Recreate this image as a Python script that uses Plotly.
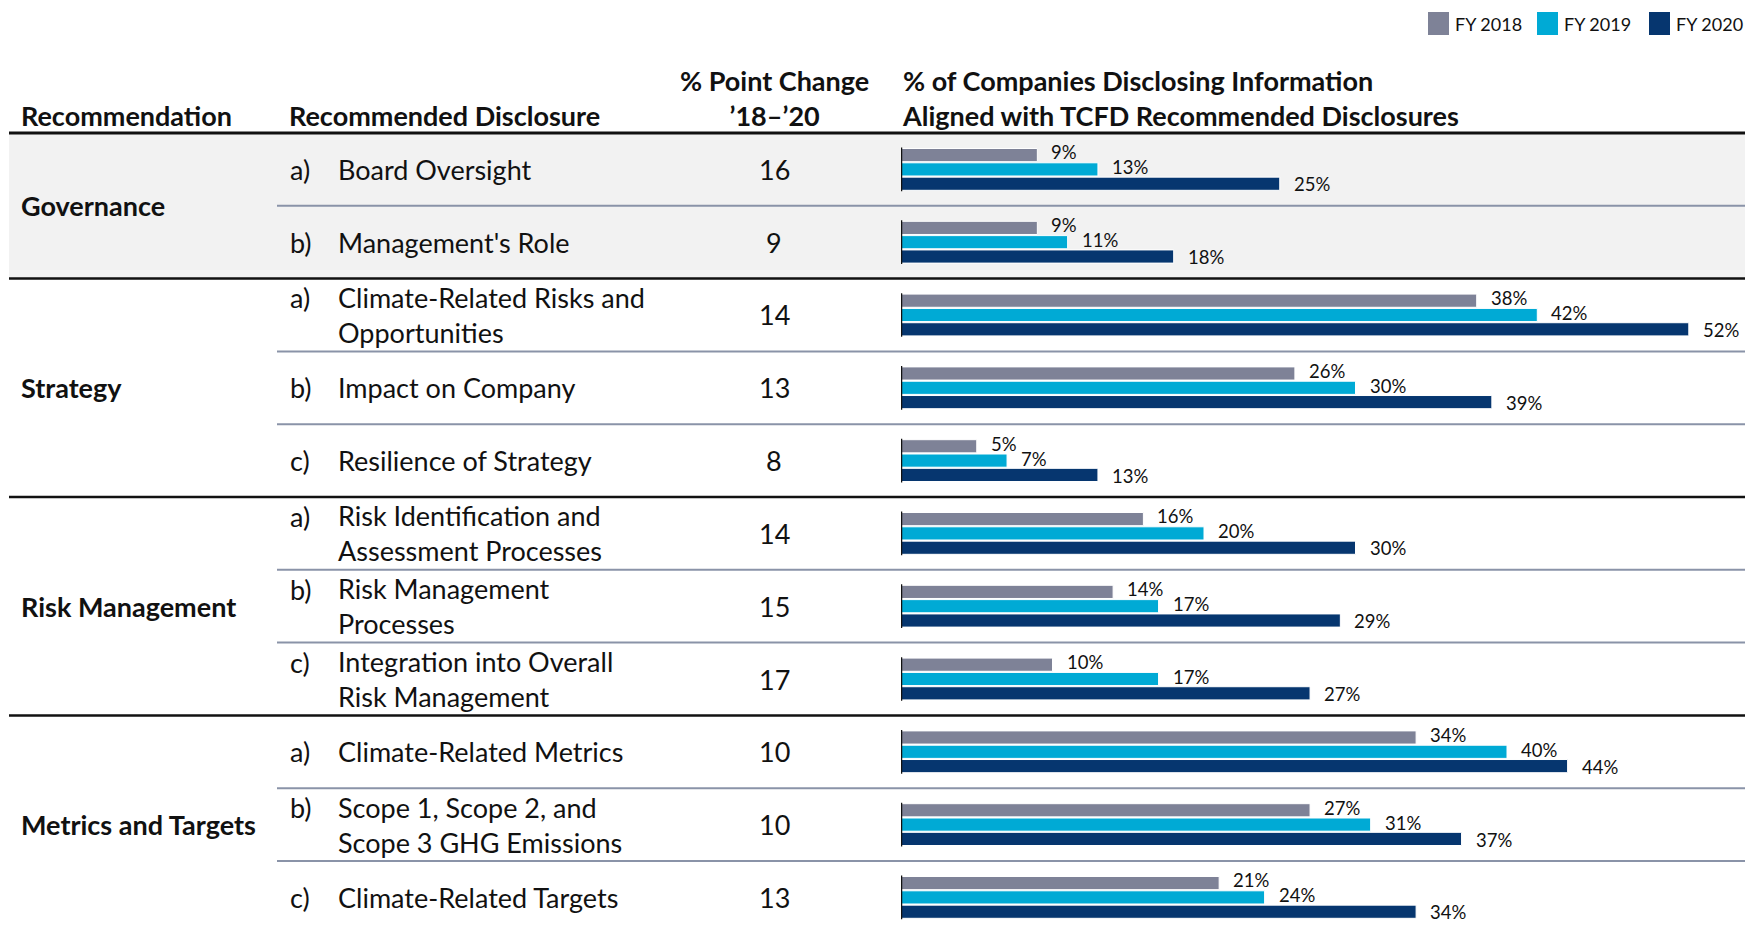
import plotly.graph_objects as go

# ---------------- data ----------------
groups = ["Governance", "Strategy", "Risk Management", "Metrics and Targets"]
group_sizes = [2, 3, 3, 3]
letters = ["a)", "b)", "a)", "b)", "c)", "a)", "b)", "c)", "a)", "b)", "c)"]
disclosures = [
    "Board Oversight",
    "Management's Role",
    "Climate-Related Risks and<br>Opportunities",
    "Impact on Company",
    "Resilience of Strategy",
    "Risk Identification and<br>Assessment Processes",
    "Risk Management<br>Processes",
    "Integration into Overall<br>Risk Management",
    "Climate-Related Metrics",
    "Scope 1, Scope 2, and<br>Scope 3 GHG Emissions",
    "Climate-Related Targets",
]
point_change = [16, 9, 14, 13, 8, 14, 15, 17, 10, 10, 13]
series_names = ["FY 2018", "FY 2019", "FY 2020"]
fy2018 = [9, 9, 38, 26, 5, 16, 14, 10, 34, 27, 21]
fy2019 = [13, 11, 42, 30, 7, 20, 17, 17, 40, 31, 24]
fy2020 = [25, 18, 52, 39, 13, 30, 29, 27, 44, 37, 34]
series_values = [fy2018, fy2019, fy2020]

header_rec = "Recommendation"
header_disc = "Recommended Disclosure"
header_change = "% Point Change<br>’18–’20"
header_pct = "% of Companies Disclosing Information<br>Aligned with TCFD Recommended Disclosures"

# ---------------- styling ----------------
PAGE_W, PAGE_H = 1753, 930
OFF = 8                      # default body margin of the page (both sides)
W, H = PAGE_W - 2 * OFF, PAGE_H - 2 * OFF
FIG_RIGHT = OFF + W
FIG_BOTTOM = OFF + H
FONT = "Lato"
colors = ["#7e8297", "#00aad5", "#06366f"]
TXT = "#111111"
TOP = 133          # page px of header rule
PITCH = 72.8       # px per row
X0 = 901           # page px of bar baseline
PX_PER_PCT = 15.15
BODY = 27
LBL = 18.5


def px(x):
    return (x - OFF) / W


def py(y):
    return 1 - (y - OFF) / H


n = len(disclosures)
y_bottom_val = -0.5 + (FIG_BOTTOM - TOP) / PITCH

fig = go.Figure()

for name, vals, col in zip(series_names, series_values, colors):
    fig.add_trace(go.Bar(
        x=vals, y=disclosures, orientation="h", name=name,
        marker=dict(color=col, line=dict(color="white", width=1)),
        showlegend=False, hovertemplate="%{x}%<extra>" + name + "</extra>",
    ))

annotations = []
shapes = []

# governance background
shapes.append(dict(type="rect", xref="paper", yref="y", x0=px(9), x1=1,
                   y0=-0.5, y1=group_sizes[0] - 0.5, fillcolor="#f2f2f2",
                   line=dict(width=0), layer="below"))

# value labels
yshifts = [17, 2, -15]
for si, vals in enumerate(series_values):
    for i, v in enumerate(vals):
        annotations.append(dict(
            x=v, y=i, xref="x", yref="y", text=f"{v}%", showarrow=False,
            xanchor="left", yanchor="middle", xshift=12, yshift=yshifts[si],
            font=dict(family=FONT, size=LBL, color=TXT)))

# baseline stub per row
for i in range(n):
    shapes.append(dict(type="line", xref="x", yref="y", x0=0, x1=0,
                       y0=i - 0.30, y1=i + 0.30,
                       line=dict(color="#111111", width=2.5)))

# row text
for i in range(n):
    two_line = "<br>" in disclosures[i]
    annotations.append(dict(x=px(288), y=i, xref="paper", yref="y", text=letters[i],
                            showarrow=False, xanchor="left", yanchor="middle",
                            yshift=17 if two_line else 0,
                            font=dict(family=FONT, size=BODY, color=TXT)))
    annotations.append(dict(x=px(336), y=i, xref="paper", yref="y", text=disclosures[i],
                            showarrow=False, xanchor="left", yanchor="middle", align="left",
                            font=dict(family=FONT, size=BODY, color=TXT)))
    annotations.append(dict(x=px(774), y=i, xref="paper", yref="y", text=str(point_change[i]),
                            showarrow=False, xanchor="center", yanchor="middle",
                            font=dict(family=FONT, size=BODY, color=TXT)))

# group labels and separators
start = 0
for gi, (g, sz) in enumerate(zip(groups, group_sizes)):
    center = start + (sz - 1) / 2
    annotations.append(dict(x=px(19), y=center, xref="paper", yref="y", text=f"<b>{g}</b>",
                            showarrow=False, xanchor="left", yanchor="middle",
                            font=dict(family=FONT, size=BODY, color=TXT)))
    for k in range(1, sz):
        shapes.append(dict(type="line", xref="paper", yref="y", x0=px(277), x1=1,
                           y0=start + k - 0.5, y1=start + k - 0.5,
                           line=dict(color="#8a93a8", width=2)))
    if gi < len(groups) - 1:
        shapes.append(dict(type="line", xref="paper", yref="y", x0=px(9), x1=1,
                           y0=start + sz - 0.5, y1=start + sz - 0.5,
                           line=dict(color="#111111", width=2.5)))
    start += sz

# header rule
shapes.append(dict(type="line", xref="paper", yref="paper", x0=px(9), x1=1,
                   y0=py(TOP), y1=py(TOP), line=dict(color="#111111", width=3)))

# headers
annotations += [
    dict(x=px(19), y=py(115), xref="paper", yref="paper", text=f"<b>{header_rec}</b>",
         showarrow=False, xanchor="left", yanchor="middle",
         font=dict(family=FONT, size=BODY, color=TXT)),
    dict(x=px(287), y=py(115), xref="paper", yref="paper", text=f"<b>{header_disc}</b>",
         showarrow=False, xanchor="left", yanchor="middle",
         font=dict(family=FONT, size=BODY, color=TXT)),
    dict(x=px(774), y=py(98), xref="paper", yref="paper", text=f"<b>{header_change}</b>",
         showarrow=False, xanchor="center", yanchor="middle",
         font=dict(family=FONT, size=BODY, color=TXT)),
    dict(x=px(900), y=py(98), xref="paper", yref="paper", text=f"<b>{header_pct}</b>",
         showarrow=False, xanchor="left", yanchor="middle", align="left",
         font=dict(family=FONT, size=BODY, color=TXT)),
]

# legend
leg_sq_x = [1428, 1537, 1649]
for name, col, lx in zip(series_names, colors, leg_sq_x):
    shapes.append(dict(type="rect", xref="paper", yref="paper",
                       x0=px(lx), x1=px(lx + 21), y0=py(12), y1=py(35),
                       fillcolor=col, line=dict(width=0)))
    annotations.append(dict(x=px(lx + 25), y=py(24), xref="paper", yref="paper", text=name,
                            showarrow=False, xanchor="left", yanchor="middle",
                            font=dict(family=FONT, size=18, color=TXT)))

fig.update_layout(
    width=W, height=H,
    margin=dict(l=0, r=0, t=0, b=0),
    paper_bgcolor="white", plot_bgcolor="rgba(0,0,0,0)",
    barmode="group", bargap=0.41, bargroupgap=0.08,
    xaxis=dict(domain=[px(X0), 1], range=[0, (FIG_RIGHT - X0) / PX_PER_PCT], visible=False,
               fixedrange=True),
    yaxis=dict(domain=[0, py(TOP)], range=[y_bottom_val, -0.5], type="category",
               categoryorder="array", categoryarray=disclosures, visible=False,
               fixedrange=True),
    shapes=shapes, annotations=annotations,
    font=dict(family=FONT, color=TXT),
)

fig.write_html("out.html")
